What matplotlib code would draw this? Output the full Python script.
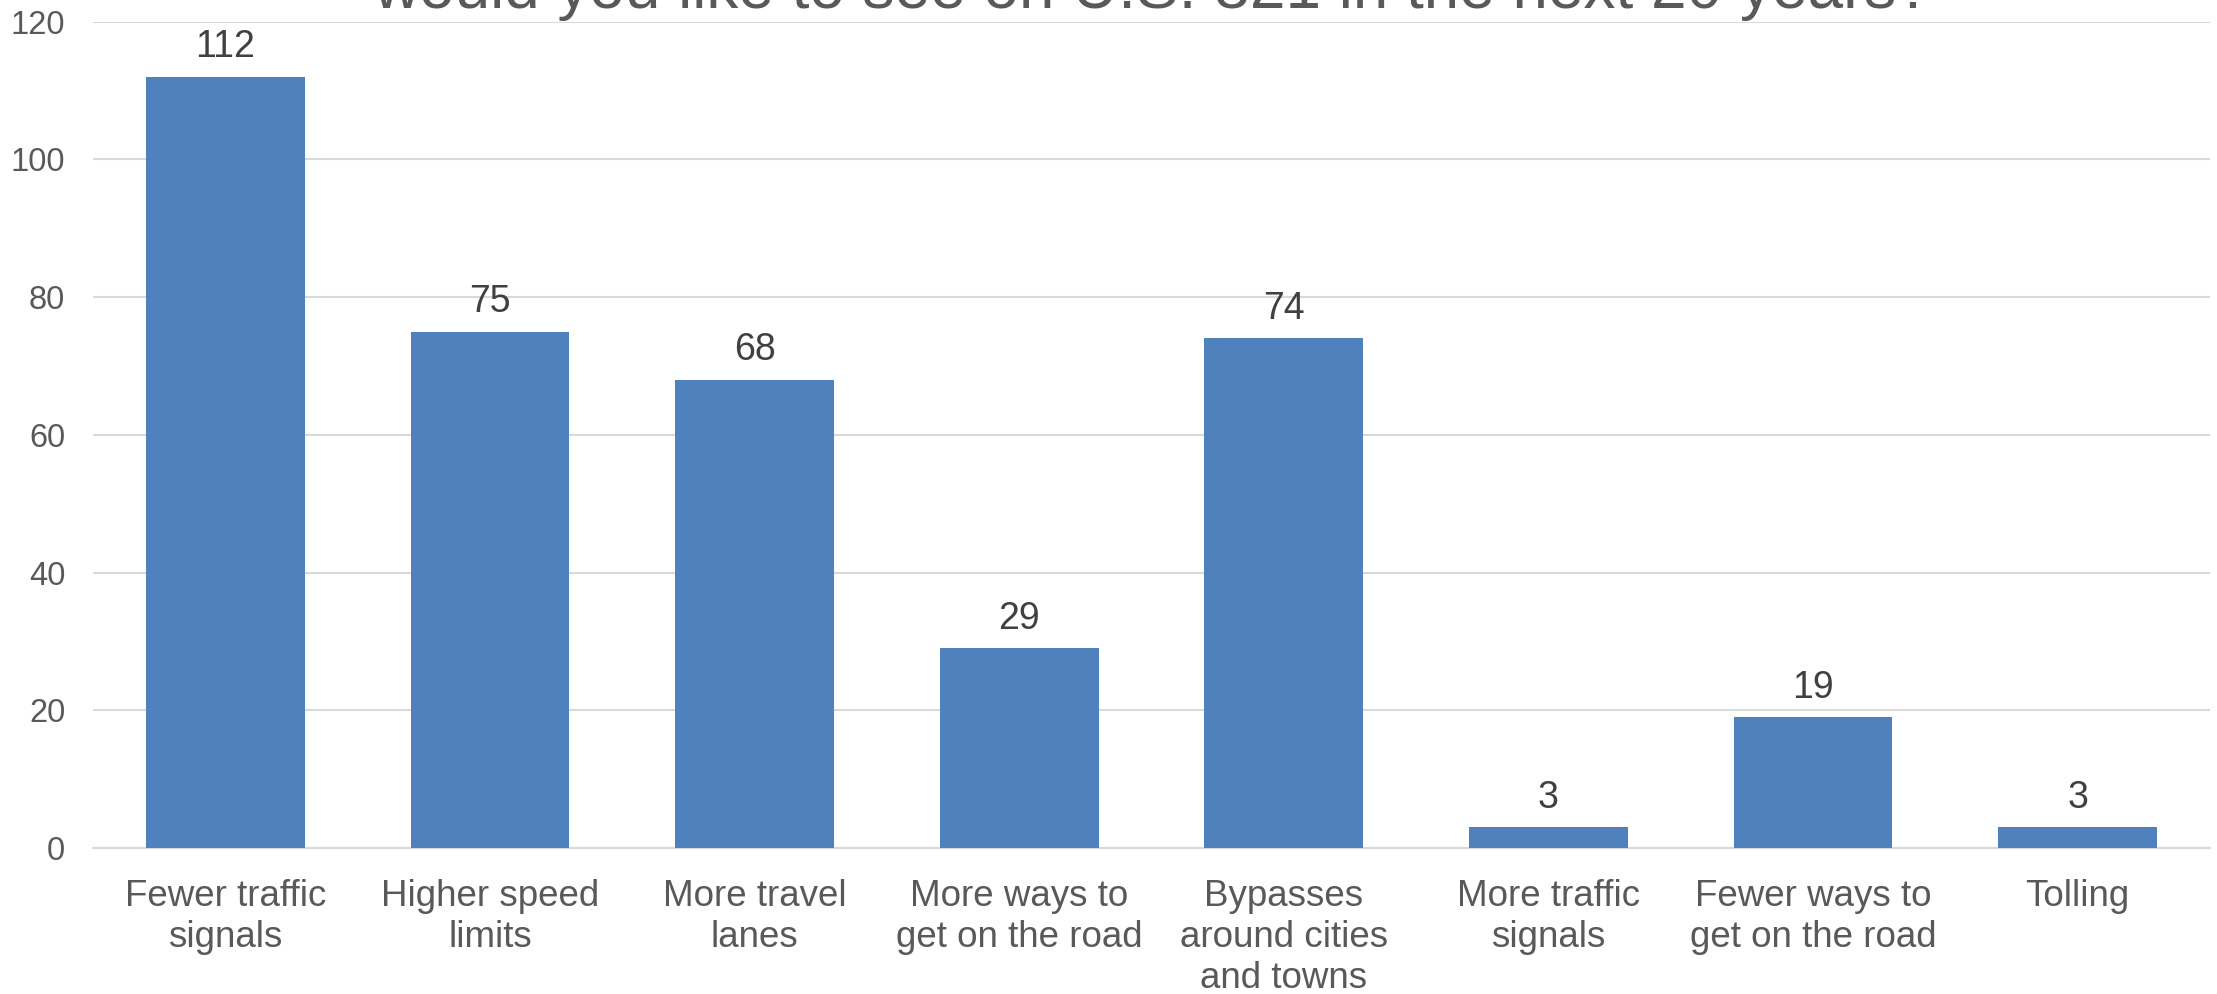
import matplotlib
matplotlib.use("Agg")
import matplotlib.pyplot as plt
import numpy as np

categories = ["Fewer traffic\nsignals", "Higher speed\nlimits", "More travel\nlanes",
              "More ways to\nget on the road", "Bypasses\naround cities\nand towns",
              "More traffic\nsignals", "Fewer ways to\nget on the road", "Tolling"]
values = [112, 75, 68, 29, 74, 3, 19, 3]
yticks = [0, 20, 40, 60, 80, 100, 120]
title = "would you like to see on U.S. 321 in the next 20 years?"

plt.rcParams['font.family'] = ['Liberation Sans', 'DejaVu Sans']

fig = plt.figure(figsize=(22.17, 9.94), dpi=100)
ax = fig.add_axes([93/2217, 146/994, (2210-93)/2217, (848-21.7)/994])

x = np.arange(len(categories))
bars = ax.bar(x, values, width=0.6, color="#4F81BD", zorder=3)
for xi, v in zip(x, values):
    ax.annotate(str(v), (xi, v), xytext=(0, 14), textcoords="offset points",
                ha="center", va="baseline", fontsize=27, color="#404040")

ax.set_xlim(-0.5, len(categories) - 0.5)
ax.set_ylim(0, 120)
ax.set_yticks(yticks)
ax.set_yticklabels([str(t) for t in yticks])
ax.set_xticks(x)
ax.set_xticklabels(categories, linespacing=1.23)
ax.tick_params(axis="x", length=0, labelsize=26.5, colors="#595959", pad=22)
ax.tick_params(axis="y", length=0, labelsize=23.5, colors="#595959", pad=20)
ax.grid(axis="y", color="#D9D9D9", linewidth=1.5, zorder=0)
for s in ["top", "right", "left"]:
    ax.spines[s].set_visible(False)
ax.spines["bottom"].set_color("#D9D9D9")
ax.spines["bottom"].set_linewidth(1.5)

fig.text(0.52, 1 - 8/994, title, ha="center", va="baseline", fontsize=46, color="#595959")

fig.savefig("out.png", dpi=100)
